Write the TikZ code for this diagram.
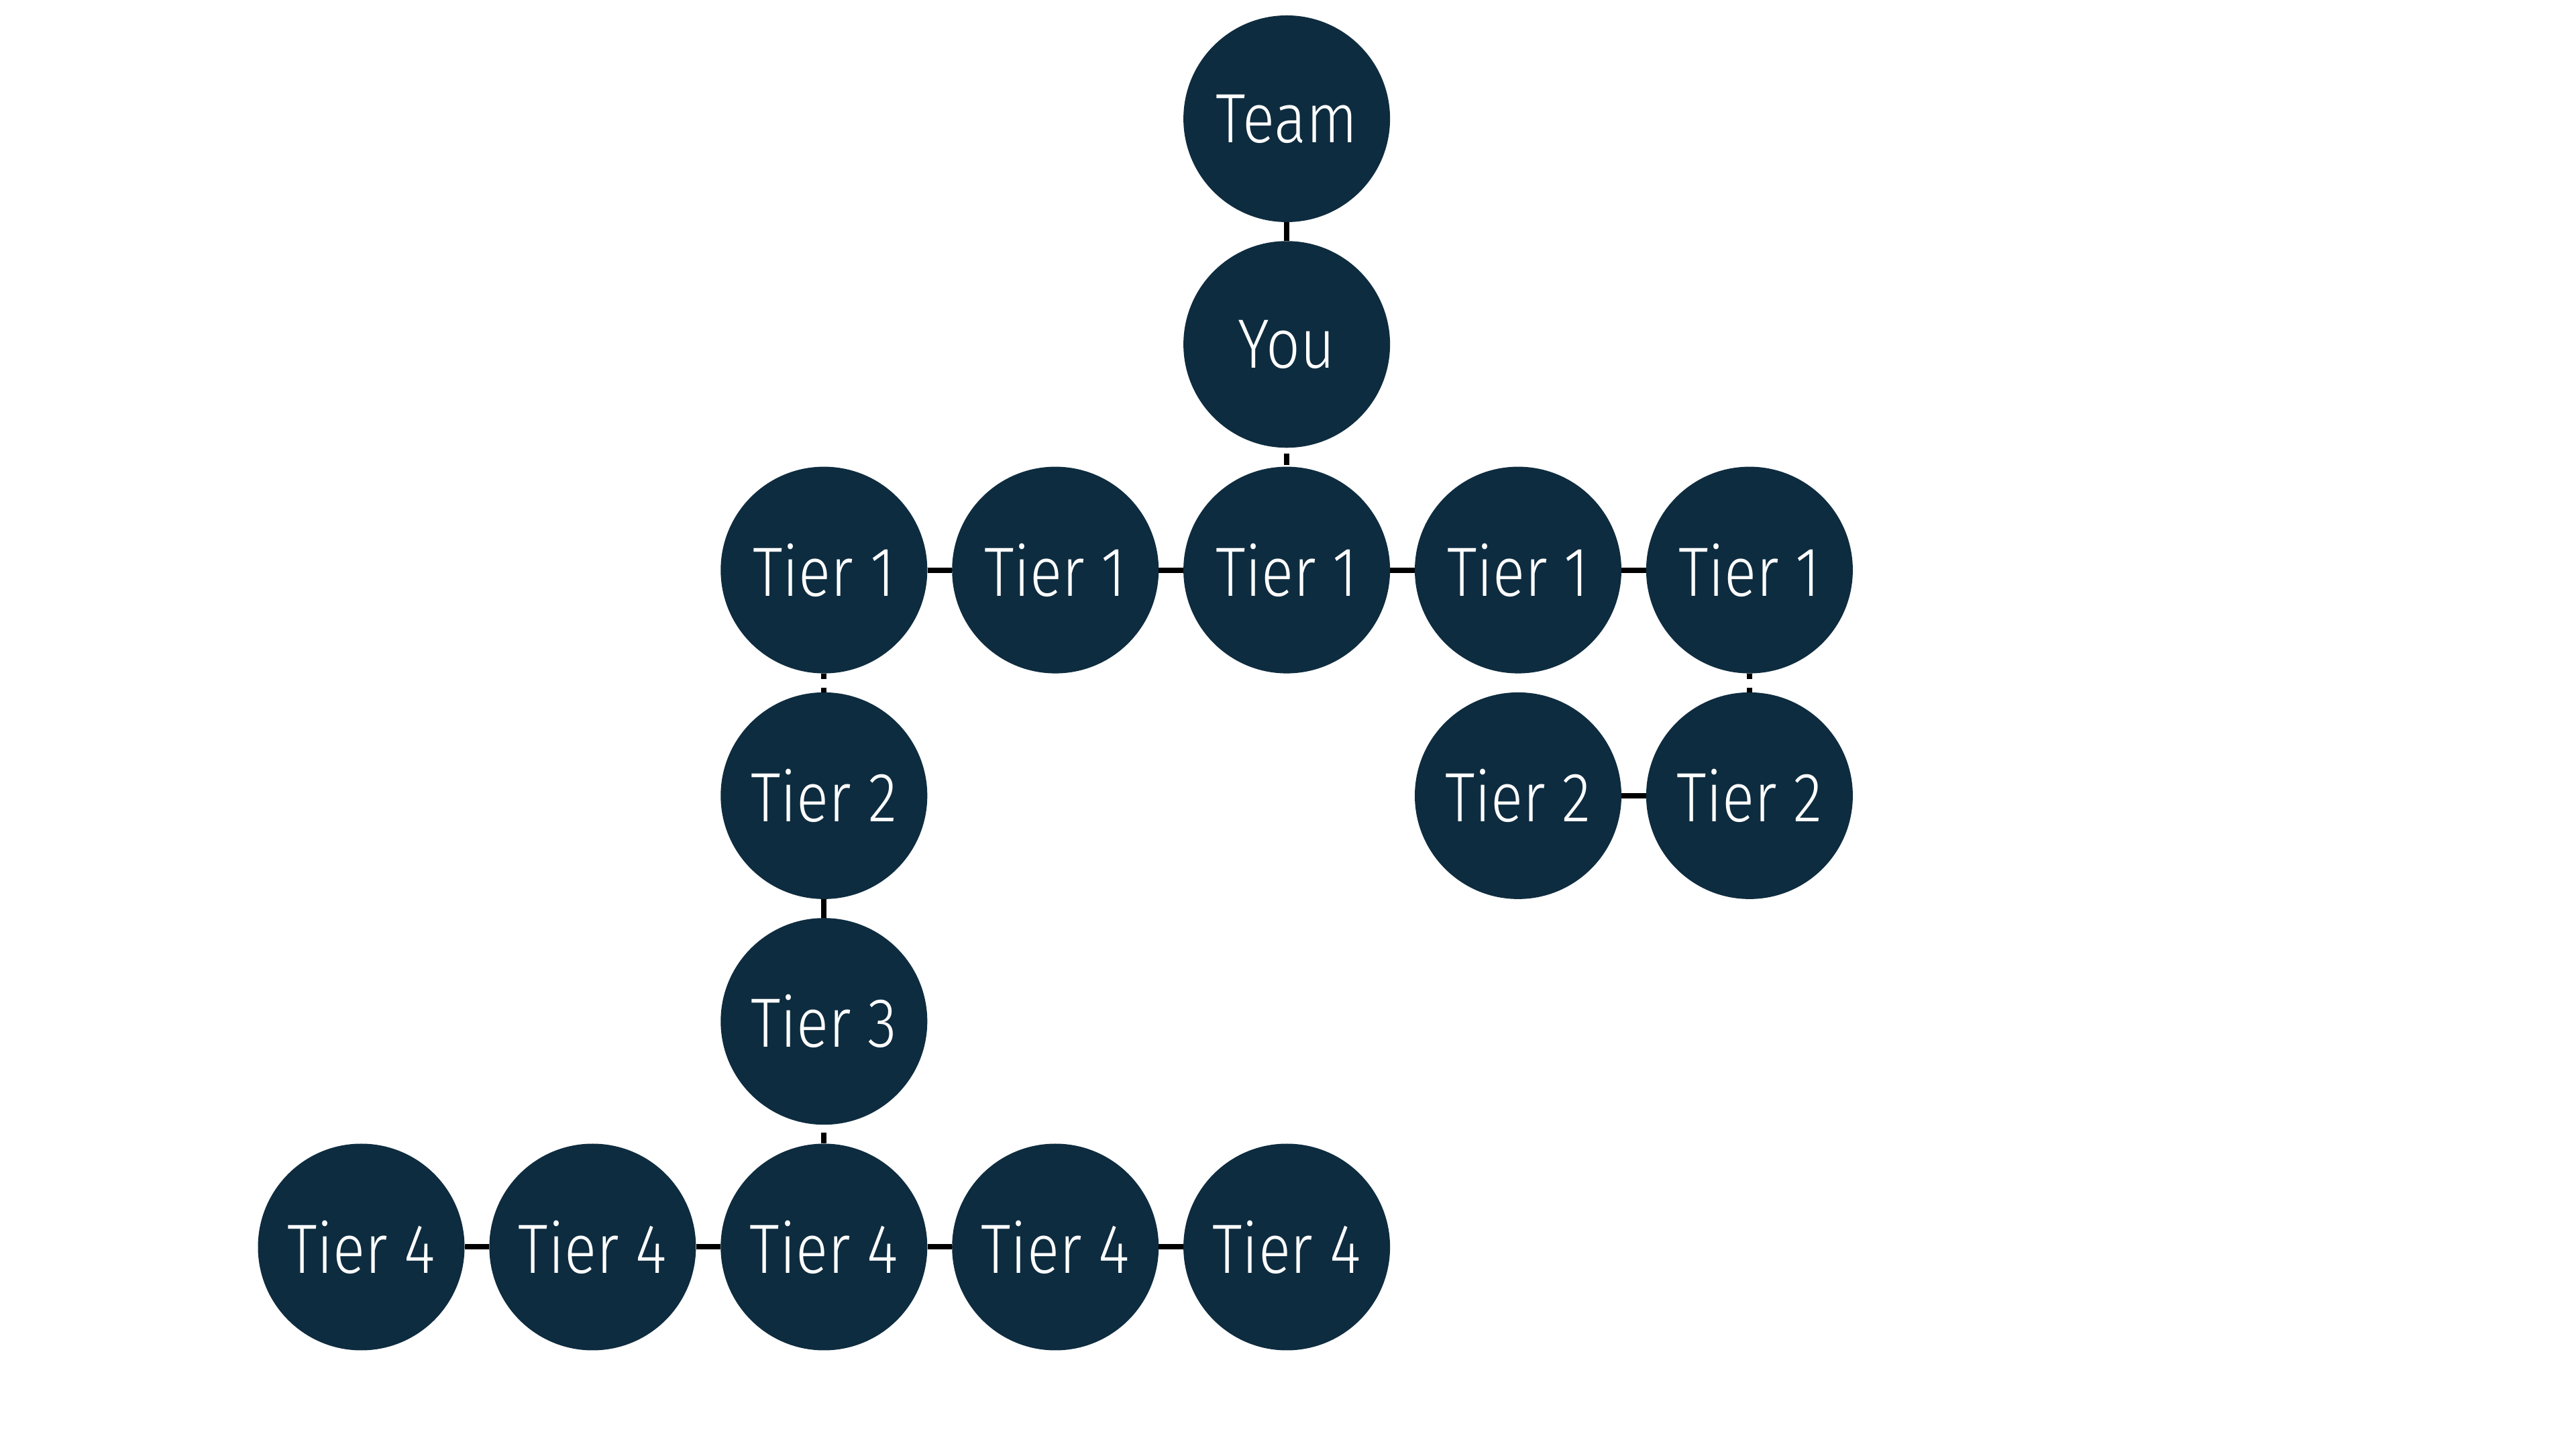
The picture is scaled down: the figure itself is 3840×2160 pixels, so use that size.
\documentclass[tikz,border=0pt]{standalone}
\usepackage{fontspec}
\setmainfont{Fira Sans}[UprightFont=* Light, FakeStretch=0.86]
\definecolor{navy}{RGB}{14,44,63}
\tikzset{
  bubble/.style={circle, fill=navy, minimum size=308pt, inner sep=0pt,
    text=white, font=\fontsize{104}{112}\selectfont},
  link/.style={line width=8pt, black},
}
\begin{document}
\begin{tikzpicture}[x=1pt,y=1pt]
\useasboundingbox (0,0) rectangle (3840,2160);
\fill[white] (0,0) rectangle (3840,2160);
% columns: 538.5 883.4 1228.3 1573.2 1918.1 2263 2607.9
% rows (y up): 1983 1646.7 1310.4 974.1 637.8 301.5
\node[bubble] (team) at (1918.1,1983) {Team};
\node[bubble] (you)  at (1918.1,1646.7) {You};
\node[bubble] (t1a) at (1228.3,1310.4) {Tier 1};
\node[bubble] (t1b) at (1573.2,1310.4) {Tier 1};
\node[bubble] (t1c) at (1918.1,1310.4) {Tier 1};
\node[bubble] (t1d) at (2263,1310.4) {Tier 1};
\node[bubble] (t1e) at (2607.9,1310.4) {Tier 1};
\node[bubble] (t2a) at (1228.3,974.1) {Tier 2};
\node[bubble] (t2b) at (2263,974.1) {Tier 2};
\node[bubble] (t2c) at (2607.9,974.1) {Tier 2};
\node[bubble] (t3)  at (1228.3,637.8) {Tier 3};
\node[bubble] (t4a) at (538.5,301.5) {Tier 4};
\node[bubble] (t4b) at (883.4,301.5) {Tier 4};
\node[bubble] (t4c) at (1228.3,301.5) {Tier 4};
\node[bubble] (t4d) at (1573.2,301.5) {Tier 4};
\node[bubble] (t4e) at (1918.1,301.5) {Tier 4};
\draw[link] (team) -- (you);
\draw[link, dash pattern=on 0pt off 9pt on 17pt off 60pt] (you) -- (t1c);
\draw[link] (t1a) -- (t1b);
\draw[link] (t1b) -- (t1c);
\draw[link] (t1c) -- (t1d);
\draw[link] (t1d) -- (t1e);
\draw[link, dash pattern=on 8pt off 13pt on 8pt off 60pt] (t1a) -- (t2a);
\draw[link, dash pattern=on 8pt off 13pt on 8pt off 60pt] (t1e) -- (t2c);
\draw[link] (t2b) -- (t2c);
\draw[link] (t2a) -- (t3);
\draw[link, dash pattern=on 0pt off 12pt on 16pt off 60pt] (t3) -- (t4c);
\draw[link] (t4a) -- (t4b);
\draw[link] (t4b) -- (t4c);
\draw[link] (t4c) -- (t4d);
\draw[link] (t4d) -- (t4e);
\end{tikzpicture}
\end{document}
